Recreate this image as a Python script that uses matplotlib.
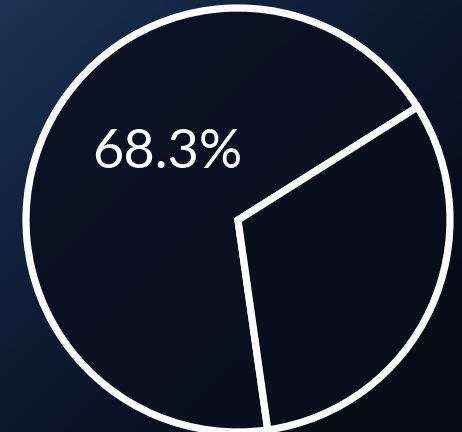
import numpy as np
import matplotlib
matplotlib.use("Agg")
import matplotlib.pyplot as plt
from matplotlib.colors import LinearSegmentedColormap, to_rgba

labels = ["A", "B"]
values = [68.3, 31.7]
shown_label = "68.3%"

W, H = 462, 432
fig = plt.figure(figsize=(W / 100, H / 100), dpi=100)
ax = fig.add_axes([0, 0, 1, 1])

# background gradient (lighter navy top-left, dark bottom-right)
yy, xx = np.mgrid[0:1:200j, 0:1:200j]
g = np.clip(0.6 * xx + 0.6 * yy, 0, 1)
cmap = LinearSegmentedColormap.from_list("bg", ["#1b3354", "#12223e", "#0b1428", "#070b16"])
ax.imshow(g, cmap=cmap, extent=[0, W, 0, H], origin="upper", aspect="auto", zorder=0)

cx, cy, r = 238, H - 220, 212
wedges, _ = ax.pie(values, startangle=32.2, counterclock=True, center=(cx, cy), radius=r,
                   colors=[to_rgba("#0a1020", 0.93), to_rgba("#0a0f1c", 0.95)],
                   wedgeprops=dict(edgecolor="white", linewidth=5.2, joinstyle="miter"),
                   frame=True)
for w in wedges:
    w.set_zorder(2)
ax.set_xlim(0, W)
ax.set_ylim(0, H)
ax.set_aspect("auto")
ax.axis("off")

ax.text(167, H - 153, shown_label, color="white", fontsize=39, family="Lato",
        ha="center", va="center", zorder=3)

fig.savefig("out.png", dpi=100)
